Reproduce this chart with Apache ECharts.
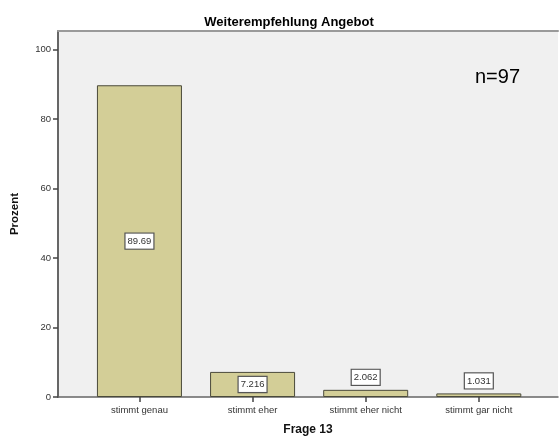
<!DOCTYPE html>
<html>
<head>
<meta charset="utf-8">
<script src="https://cdn.jsdelivr.net/npm/echarts@6/dist/echarts.min.js"></script>
<style>
html,body{margin:0;padding:0;background:#fff;}
#chart{width:559px;height:441px;}
</style>
</head>
<body>
<div id="chart"></div>
<script>
const categories = ['stimmt genau', 'stimmt eher', 'stimmt eher nicht', 'stimmt gar nicht'];
const percents = [89.69, 7.216, 2.062, 1.031];
const yTicks = [0, 20, 40, 60, 80, 100];
const chartTitle = 'Weiterempfehlung Angebot';
const nText = 'n=97';
const xName = 'Frage 13';
const yName = 'Prozent';

const idx = categories.map((c, i) => i);
const chart = echarts.init(document.getElementById('chart'));
const font = 'Liberation Sans, Arial, sans-serif';

const data = percents.map((v, i) => ({
  value: [i, v],
  label: v < 5 ? { position: 'top', distance: 5 } : { position: 'inside' }
}));

chart.setOption({
  animation: false,
  backgroundColor: '#ffffff',
  title: [
    { text: chartTitle, left: 284, top: 11, textAlign: 'center',
      textStyle: { fontFamily: font, fontSize: 13, fontWeight: 'bold', color: '#000' } },
    { text: nText, left: 470, top: 62,
      textStyle: { fontFamily: font, fontSize: 20, fontWeight: 'normal', color: '#000' } }
  ],
  grid: { left: 58, right: 1, top: 31, bottom: 41, show: true, backgroundColor: '#f0f0f0', borderWidth: 0 },
  xAxis: [{
    type: 'value', min: -0.72, max: 3.70,
    name: xName, nameLocation: 'middle', nameGap: 27,
    nameTextStyle: { fontFamily: font, fontSize: 12, fontWeight: 'bold', color: '#111' },
    axisLine: { show: true, onZero: false, lineStyle: { color: '#666', width: 1.5 } },
    axisTick: { show: true, length: 5, customValues: idx, lineStyle: { color: '#444', width: 1.5 } },
    axisLabel: { customValues: idx, formatter: v => categories[Math.round(v)] || '', margin: 8,
      fontFamily: font, fontSize: 9.5, color: '#333' },
    splitLine: { show: false }
  }, {
    type: 'value', position: 'top', min: -0.72, max: 3.70,
    axisLine: { show: true, onZero: false, lineStyle: { color: '#9a9a9a', width: 2 } },
    axisTick: { show: false }, axisLabel: { show: false }, splitLine: { show: false }
  }],
  yAxis: {
    type: 'value', min: 0, max: 105.3,
    name: yName, nameLocation: 'middle', nameGap: 37,
    nameTextStyle: { fontFamily: font, fontSize: 11.5, fontWeight: 'bold', color: '#111' },
    axisLine: { show: true, onZero: false, lineStyle: { color: '#666', width: 2 } },
    axisTick: { show: true, length: 5, customValues: yTicks, lineStyle: { color: '#444', width: 1.5 } },
    axisLabel: { customValues: yTicks, margin: 7, fontFamily: font, fontSize: 9.5, color: '#333' },
    splitLine: { show: false }
  },
  series: [{
    type: 'bar',
    xAxisIndex: 0,
    barWidth: 85,
    data: data,
    itemStyle: { color: '#d3ce97', borderColor: '#4a4a3a', borderWidth: 1 },
    label: {
      show: true,
      formatter: p => String(p.value[1]),
      fontFamily: font, fontSize: 9.5, color: '#333',
      backgroundColor: '#fff', borderColor: '#555', borderWidth: 1.2,
      padding: [3, 2, 2, 2]
    }
  }]
});
</script>
</body>
</html>
